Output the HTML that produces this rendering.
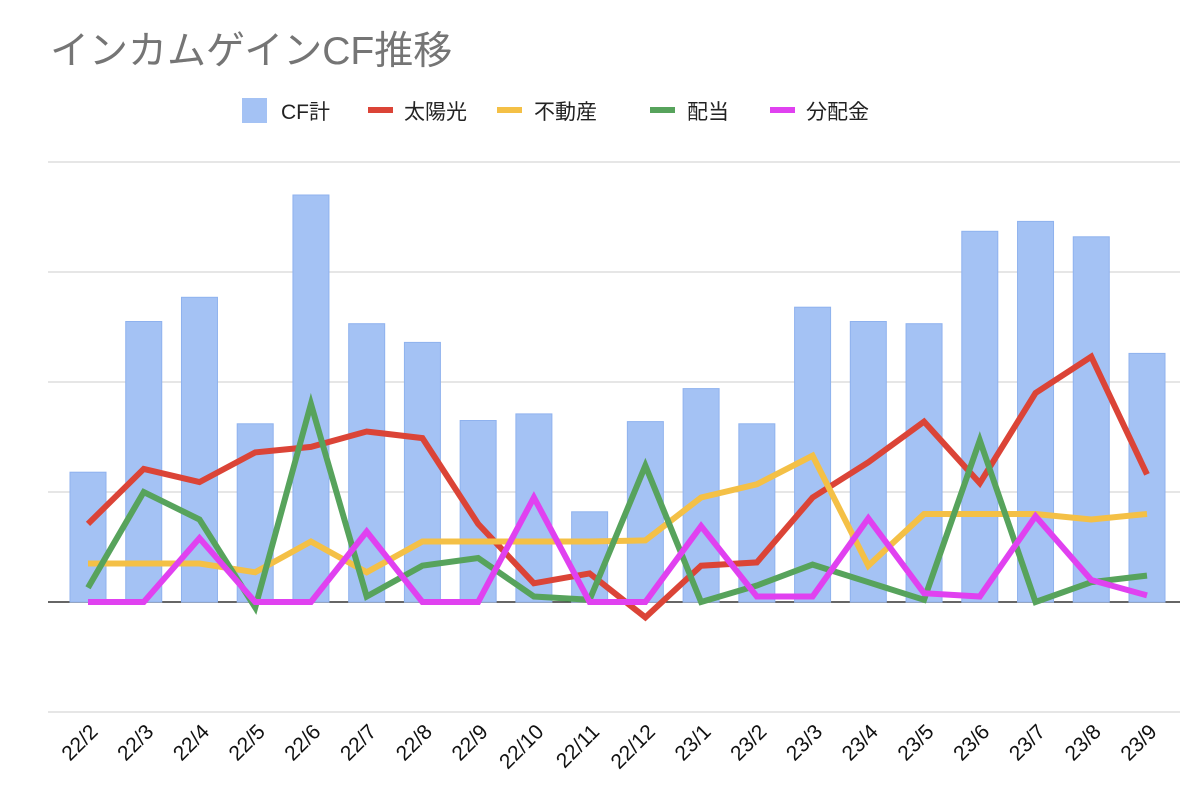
<!DOCTYPE html>
<html><head><meta charset="utf-8"><style>
body{margin:0;background:#fff;}
svg{display:block;font-family:"Liberation Sans","Noto Sans CJK JP",sans-serif;}
</style></head><body>
<svg id="chart" width="1200" height="794">
<text x="50" y="64" font-size="39" fill="#757575">インカムゲインCF推移</text>
<g id="legend">
<rect x="242" y="98" width="25" height="25" fill="#a4c2f4"/>
<text x="281" y="119" font-size="21" fill="#222">CF計</text>
<line x1="368" y1="110" x2="393" y2="110" stroke="#db4437" stroke-width="6"/>
<text x="404" y="119" font-size="21" fill="#222">太陽光</text>
<line x1="497" y1="110" x2="522" y2="110" stroke="#f4c046" stroke-width="6"/>
<text x="534" y="119" font-size="21" fill="#222">不動産</text>
<line x1="650" y1="110" x2="675" y2="110" stroke="#57a35c" stroke-width="6"/>
<text x="687" y="119" font-size="21" fill="#222">配当</text>
<line x1="770" y1="110" x2="795" y2="110" stroke="#e041f0" stroke-width="6"/>
<text x="806" y="119" font-size="21" fill="#222">分配金</text>
</g>
<g id="grid"></g><g id="bars"></g><g id="lines"></g><g id="xlabels"></g>
</svg>
<script>
const categories=["22/2","22/3","22/4","22/5","22/6","22/7","22/8","22/9","22/10","22/11","22/12","23/1","23/2","23/3","23/4","23/5","23/6","23/7","23/8","23/9"];
const cfTotal=[1.18,2.55,2.77,1.62,3.70,2.53,2.36,1.65,1.71,0.82,1.64,1.94,1.62,2.68,2.55,2.53,3.37,3.46,3.32,2.26];
const solar=[0.71,1.21,1.09,1.36,1.41,1.55,1.49,0.71,0.17,0.26,-0.14,0.33,0.36,0.95,1.27,1.64,1.08,1.90,2.23,1.16];
const realEstate=[0.35,0.35,0.35,0.27,0.55,0.27,0.55,0.55,0.55,0.55,0.56,0.95,1.07,1.33,0.33,0.80,0.80,0.80,0.75,0.80];
const dividend=[0.13,1.00,0.75,-0.05,1.80,0.05,0.33,0.40,0.05,0.02,1.24,0,0.15,0.34,0.18,0.02,1.47,0,0.18,0.24];
const distribution=[0,0,0.58,0,0,0.64,0,0,0.95,0,0,0.69,0.05,0.05,0.76,0.08,0.05,0.78,0.20,0.06];
const yTicks=[-1,0,1,2,3,4];
const NS="http://www.w3.org/2000/svg";
const yMin=-1,yMax=4,plotTop=162,plotBottom=712;
const yScale=v=>plotBottom-(v-yMin)/(yMax-yMin)*(plotBottom-plotTop);
const xStart=88,xEnd=1147;
const xScale=i=>xStart+i*(xEnd-xStart)/(categories.length-1);
function mk(tag,attrs,parent){const e=document.createElementNS(NS,tag);for(const k in attrs)e.setAttribute(k,attrs[k]);parent.appendChild(e);return e;}
const grid=document.getElementById('grid');
yTicks.forEach(t=>{
  const l=mk('line',{x1:48,x2:1180,y1:yScale(t),y2:yScale(t),stroke:t===0?'#333':'#ccc','stroke-width':t===0?1.6:1},grid);
  
  
});
const bars=document.getElementById('bars');
cfTotal.forEach((v,i)=>{
  const r=mk('rect',{x:xScale(i)-18,y:yScale(v),width:36,height:yScale(0)-yScale(v),fill:'#a4c2f4',stroke:'#8fb2ee','stroke-width':1},bars);
  
  
});
const lines=document.getElementById('lines');
[[solar,'#db4437','line-solar'],[realEstate,'#f4c046','line-realestate'],[dividend,'#57a35c','line-dividend'],[distribution,'#e041f0','line-distribution']].forEach(([d,c,n])=>{
  const p=mk('polyline',{points:d.map((v,i)=>xScale(i)+','+yScale(v)).join(' '),fill:'none',stroke:c,'stroke-width':6,'stroke-linejoin':'miter'},lines);
  
  
});
const xl=document.getElementById('xlabels');
categories.forEach((c,i)=>{
  const px=xScale(i)+11;
  const t=mk('text',{x:px,y:733,'font-size':21,fill:'#111','text-anchor':'end',transform:`rotate(-45 ${px} 733)`},xl);
  t.textContent=c;
  
  
});
</script>
</body></html>
